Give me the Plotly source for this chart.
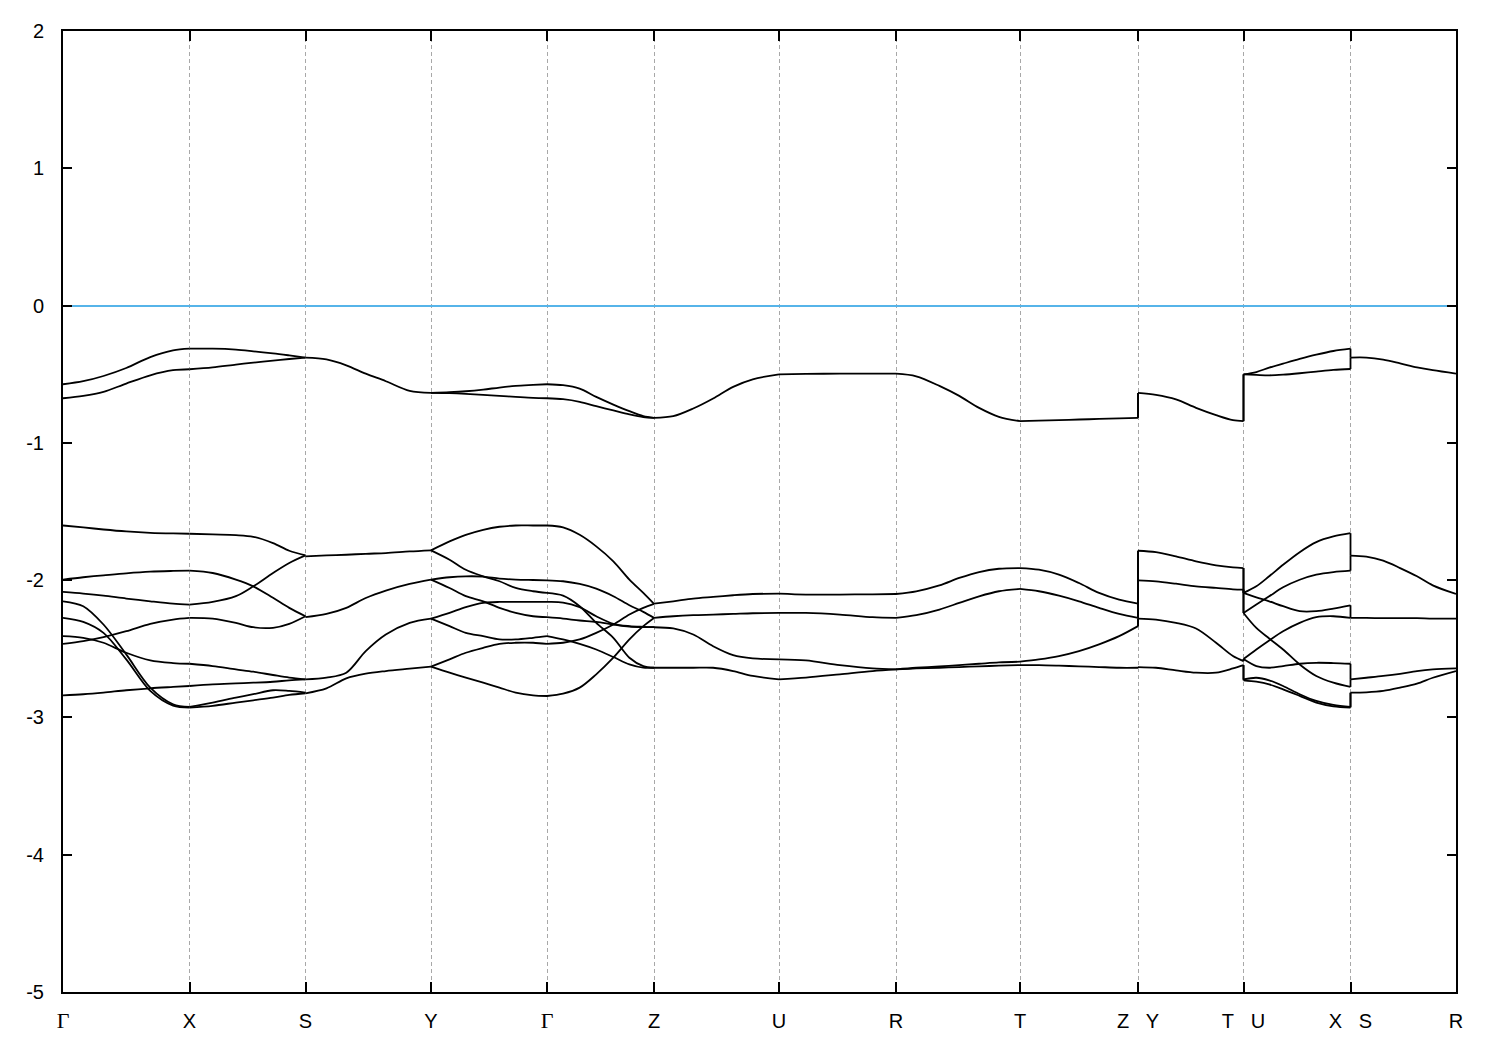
import plotly.graph_objects as go

# ---------------- high-symmetry path ----------------
K_POINTS = [0.0, 0.1265, 0.2425, 0.368, 0.484, 0.591, 0.716, 0.833, 0.957,
            1.075, 1.1805, 1.2875, 1.393]
K_LABELS = ["Γ", "X", "S", "Y", "Γ", "Z", "U", "R", "T", "Z|Y", "T|U", "X|S", "R"]
Y_TICKS = [-5, -4, -3, -2, -1, 0, 1, 2]
FERMI = 0.0

# ---------------- band energies per path segment ----------------
# fractional sample positions along each segment, top (valence) bands, lower bands
GX_T = [0, .16, .32, .5, .69, .87, 1]
GX_TOP = [[-0.573, -0.551, -0.513, -0.455, -0.375, -0.326, -0.314],
          [-0.675, -0.658, -0.629, -0.568, -0.508, -0.471, -0.464]]
GX_LOW = [[-1.602, -1.616, -1.631, -1.645, -1.655, -1.660, -1.662],
          [-1.996, -1.979, -1.965, -1.950, -1.938, -1.933, -1.931],
          [-2.086, -2.098, -2.113, -2.134, -2.154, -2.171, -2.178],
          [-2.154, -2.190, -2.323, -2.541, -2.783, -2.904, -2.923],
          [-2.275, -2.304, -2.384, -2.577, -2.807, -2.914, -2.928],
          [-2.408, -2.420, -2.456, -2.529, -2.585, -2.604, -2.609],
          [-2.464, -2.444, -2.415, -2.372, -2.318, -2.287, -2.275],
          [-2.839, -2.831, -2.819, -2.802, -2.788, -2.778, -2.771]]

XS_T = [0, .20, .40, .55, .72, .86, 1]
XS_TOP = [[-0.314, -0.314, -0.321, -0.333, -0.348, -0.363, -0.379],
          [-0.464, -0.450, -0.430, -0.416, -0.401, -0.389, -0.379]]
XS_LOW = [[-1.662, -1.667, -1.672, -1.684, -1.730, -1.786, -1.820],
          [-1.931, -1.948, -1.996, -2.045, -2.129, -2.202, -2.263],
          [-2.178, -2.159, -2.117, -2.045, -1.948, -1.875, -1.820],
          [-2.275, -2.280, -2.311, -2.343, -2.347, -2.318, -2.263],
          [-2.609, -2.626, -2.650, -2.667, -2.691, -2.710, -2.723],
          [-2.771, -2.759, -2.752, -2.747, -2.740, -2.730, -2.723],
          [-2.923, -2.892, -2.856, -2.831, -2.802, -2.807, -2.819],
          [-2.928, -2.916, -2.892, -2.875, -2.856, -2.836, -2.824]]

SY_T = [0, .167, .325, .48, .64, .83, 1]
SY_TOP = [[-0.379, -0.392, -0.435, -0.496, -0.551, -0.622, -0.636]]
SY_LOW = [[-1.827, -1.820, -1.815, -1.808, -1.803, -1.791, -1.783],
          [-2.270, -2.246, -2.202, -2.130, -2.076, -2.028, -1.996],
          [-2.723, -2.710, -2.674, -2.517, -2.396, -2.311, -2.280],
          [-2.824, -2.788, -2.715, -2.681, -2.662, -2.645, -2.630]]

YG_T = [0, .16, .30, .45, .59, .73, .88, 1]
YG_TOP = [[-0.636, -0.631, -0.624, -0.612, -0.597, -0.585, -0.578, -0.573],
          [-0.636, -0.638, -0.643, -0.651, -0.658, -0.665, -0.672, -0.675]]
YG_LOW = [[-1.783, -1.718, -1.670, -1.633, -1.611, -1.602, -1.602, -1.602],
          [-1.783, -1.851, -1.924, -1.972, -2.008, -2.057, -2.081, -2.093],
          [-1.996, -1.979, -1.972, -1.974, -1.989, -1.996, -1.999, -2.001],
          [-1.996, -2.057, -2.117, -2.154, -2.202, -2.238, -2.263, -2.270],
          [-2.280, -2.238, -2.197, -2.166, -2.159, -2.159, -2.159, -2.159],
          [-2.280, -2.335, -2.384, -2.408, -2.432, -2.432, -2.420, -2.408],
          [-2.630, -2.577, -2.529, -2.493, -2.464, -2.456, -2.456, -2.464],
          [-2.630, -2.674, -2.710, -2.747, -2.783, -2.819, -2.839, -2.844]]

GZ_T = [0, .15, .305, .46, .62, .77, .90, 1]
GZ_TOP = [[-0.573, -0.580, -0.605, -0.665, -0.721, -0.769, -0.805, -0.818],
          [-0.675, -0.682, -0.701, -0.733, -0.764, -0.793, -0.813, -0.818]]
GZ_LOW = [[-1.602, -1.616, -1.670, -1.754, -1.863, -1.996, -2.093, -2.173],
          [-2.001, -2.008, -2.028, -2.062, -2.117, -2.183, -2.231, -2.275],
          [-2.093, -2.113, -2.190, -2.311, -2.420, -2.565, -2.626, -2.638],
          [-2.159, -2.163, -2.197, -2.263, -2.318, -2.335, -2.340, -2.342],
          [-2.270, -2.280, -2.294, -2.304, -2.323, -2.338, -2.342, -2.342],
          [-2.408, -2.432, -2.464, -2.505, -2.560, -2.614, -2.638, -2.638],
          [-2.464, -2.456, -2.432, -2.384, -2.323, -2.250, -2.202, -2.173],
          [-2.844, -2.827, -2.783, -2.686, -2.565, -2.432, -2.335, -2.275]]

ZU_T = [0, .154, .314, .473, .633, .79, 1]
ZU_TOP = [[-0.818, -0.806, -0.750, -0.677, -0.592, -0.537, -0.501]]
ZU_LOW = [[-2.171, -2.154, -2.134, -2.122, -2.110, -2.101, -2.098],
          [-2.275, -2.263, -2.255, -2.251, -2.246, -2.241, -2.239],
          [-2.343, -2.352, -2.396, -2.481, -2.546, -2.570, -2.577],
          [-2.638, -2.638, -2.638, -2.638, -2.662, -2.698, -2.723]]

UR_T = [0, .23, .52, .80, 1]
UR_TOP = [[-0.501, -0.498, -0.496, -0.496, -0.496]]
UR_LOW = [[-2.098, -2.105, -2.105, -2.103, -2.101],
          [-2.239, -2.239, -2.251, -2.270, -2.275],
          [-2.577, -2.585, -2.619, -2.643, -2.650],
          [-2.723, -2.710, -2.686, -2.662, -2.650]]

RT_T = [0, .163, .35, .51, .67, .83, 1]
RT_TOP = [[-0.496, -0.515, -0.585, -0.658, -0.745, -0.810, -0.842]]
RT_LOW = [[-2.101, -2.081, -2.038, -1.984, -1.941, -1.917, -1.912],
          [-2.275, -2.255, -2.214, -2.166, -2.118, -2.081, -2.064],
          [-2.650, -2.643, -2.638, -2.633, -2.628, -2.623, -2.619],
          [-2.650, -2.638, -2.628, -2.619, -2.609, -2.599, -2.594]]

TZ_T = [0, .16, .33, .50, .67, .84, 1]
TZ_TOP = [[-0.842, -0.838, -0.834, -0.830, -0.826, -0.822, -0.818]]
TZ_LOW = [[-1.912, -1.924, -1.960, -2.021, -2.093, -2.142, -2.171],
          [-2.064, -2.081, -2.113, -2.154, -2.202, -2.246, -2.275],
          [-2.619, -2.619, -2.623, -2.628, -2.633, -2.638, -2.638],
          [-2.594, -2.577, -2.553, -2.517, -2.468, -2.408, -2.335]]

YT_T = [0, .17, .36, .55, .74, .90, 1]
YT_TOP = [[-0.636, -0.651, -0.684, -0.745, -0.798, -0.835, -0.842]]
YT_LOW = [[-1.786, -1.796, -1.827, -1.863, -1.892, -1.907, -1.912],
          [-2.001, -2.009, -2.026, -2.045, -2.057, -2.067, -2.069],
          [-2.280, -2.287, -2.311, -2.352, -2.456, -2.553, -2.590],
          [-2.633, -2.638, -2.657, -2.674, -2.674, -2.643, -2.619]]

UX_T = [0, .12, .24, .37, .525, .68, .84, 1]
UX_TOP = [[-0.501, -0.484, -0.452, -0.423, -0.389, -0.358, -0.331, -0.314],
          [-0.501, -0.505, -0.508, -0.503, -0.493, -0.481, -0.469, -0.462]]
UX_LOW = [[-2.093, -2.045, -1.972, -1.888, -1.796, -1.723, -1.682, -1.658],
          [-2.239, -2.178, -2.118, -2.052, -1.997, -1.960, -1.941, -1.931],
          [-2.093, -2.125, -2.154, -2.190, -2.226, -2.226, -2.207, -2.183],
          [-2.239, -2.348, -2.425, -2.505, -2.614, -2.698, -2.747, -2.778],
          [-2.575, -2.505, -2.439, -2.372, -2.311, -2.270, -2.263, -2.275],
          [-2.575, -2.626, -2.638, -2.626, -2.609, -2.602, -2.604, -2.609],
          [-2.723, -2.711, -2.730, -2.771, -2.831, -2.880, -2.909, -2.923],
          [-2.730, -2.740, -2.759, -2.795, -2.843, -2.892, -2.919, -2.928]]

SR_T = [0, .15, .31, .47, .63, .78, 1]
SR_TOP = [[-0.379, -0.379, -0.394, -0.421, -0.450, -0.471, -0.496]]
SR_LOW = [[-1.822, -1.829, -1.858, -1.912, -1.972, -2.038, -2.101],
          [-2.275, -2.275, -2.277, -2.277, -2.277, -2.280, -2.280],
          [-2.723, -2.711, -2.698, -2.682, -2.662, -2.650, -2.643],
          [-2.820, -2.817, -2.807, -2.783, -2.754, -2.711, -2.662]]

N_BANDS = 10

SEGMENTS = [
    (0, 1, GX_T, GX_TOP, GX_LOW),
    (1, 2, XS_T, XS_TOP, XS_LOW),
    (2, 3, SY_T, SY_TOP, SY_LOW),
    (3, 4, YG_T, YG_TOP, YG_LOW),
    (4, 5, GZ_T, GZ_TOP, GZ_LOW),
    (5, 6, ZU_T, ZU_TOP, ZU_LOW),
    (6, 7, UR_T, UR_TOP, UR_LOW),
    (7, 8, RT_T, RT_TOP, RT_LOW),
    (8, 9, TZ_T, TZ_TOP, TZ_LOW),
    (9, 10, YT_T, YT_TOP, YT_LOW),
    (10, 11, UX_T, UX_TOP, UX_LOW),
    (11, 12, SR_T, SR_TOP, SR_LOW),
]
JUMP_AT = [9, 10, 11]   # path discontinuities Z|Y, T|U, X|S

BAND_COLOR = "black"
BAND_WIDTH = 1.8

fig = go.Figure()

# band lines, segment by segment
for s, e, tt, top, low in SEGMENTS:
    k0, k1 = K_POINTS[s], K_POINTS[e]
    xs = [k0 + t * (k1 - k0) for t in tt]
    for band in top + low:
        fig.add_trace(go.Scatter(
            x=xs, y=band, mode="lines",
            line=dict(color=BAND_COLOR, width=BAND_WIDTH, shape="spline", smoothing=0.9),
            hoverinfo="skip", showlegend=False))


# vertical jumps at path discontinuities (band i joined to band i)
def band_values(seg, at_end):
    lines = seg[3] + seg[4]
    rep = N_BANDS // len(lines)
    vals = [(l[-1] if at_end else l[0]) for l in lines for _ in range(rep)]
    return sorted(vals)


for i in range(len(SEGMENTS) - 1):
    left, right = SEGMENTS[i], SEGMENTS[i + 1]
    if left[1] not in JUMP_AT:
        continue
    kx = K_POINTS[left[1]]
    for a, b in zip(band_values(left, True), band_values(right, False)):
        fig.add_trace(go.Scatter(
            x=[kx, kx], y=[a, b], mode="lines",
            line=dict(color=BAND_COLOR, width=BAND_WIDTH),
            hoverinfo="skip", showlegend=False))

SERIF = "Liberation Serif, Times New Roman, serif"


def fmt_label(lbl):
    out = []
    for p in lbl.split("|"):
        if p == "Γ":
            out.append(f"<span style='font-family:{SERIF};font-size:22px'>Γ</span>")
        else:
            out.append(p)
    return "&nbsp;&nbsp;&nbsp;".join(out)


tick_text = [fmt_label(l) for l in K_LABELS]

fig.update_layout(
    width=1500, height=1050,
    margin=dict(l=55, r=52, t=20, b=66),
    paper_bgcolor="white", plot_bgcolor="white",
    font=dict(family="Liberation Sans, Arial, sans-serif", size=20, color="black"),
    showlegend=False,
)
fig.update_xaxes(
    range=[K_POINTS[0], K_POINTS[-1]],
    tickmode="array", tickvals=K_POINTS, ticktext=tick_text,
    ticks="inside", ticklen=10, tickwidth=1.5, tickcolor="black",
    showline=True, linecolor="black", linewidth=2, mirror="ticks",
    showgrid=True, gridcolor="#a8a8a8", gridwidth=1, griddash="4px,3px",
    zeroline=False, ticklabelstandoff=10,
)
fig.update_yaxes(
    range=[Y_TICKS[0], Y_TICKS[-1]],
    tickmode="array", tickvals=Y_TICKS, ticktext=[str(v) for v in Y_TICKS],
    ticks="inside", ticklen=9, tickwidth=1.5, tickcolor="black",
    showline=True, linecolor="black", linewidth=2, mirror="ticks",
    showgrid=False,
    zeroline=True, zerolinecolor="#56B4E9", zerolinewidth=1.8,
    ticklabelstandoff=13,
)

fig.write_html("out.html")
